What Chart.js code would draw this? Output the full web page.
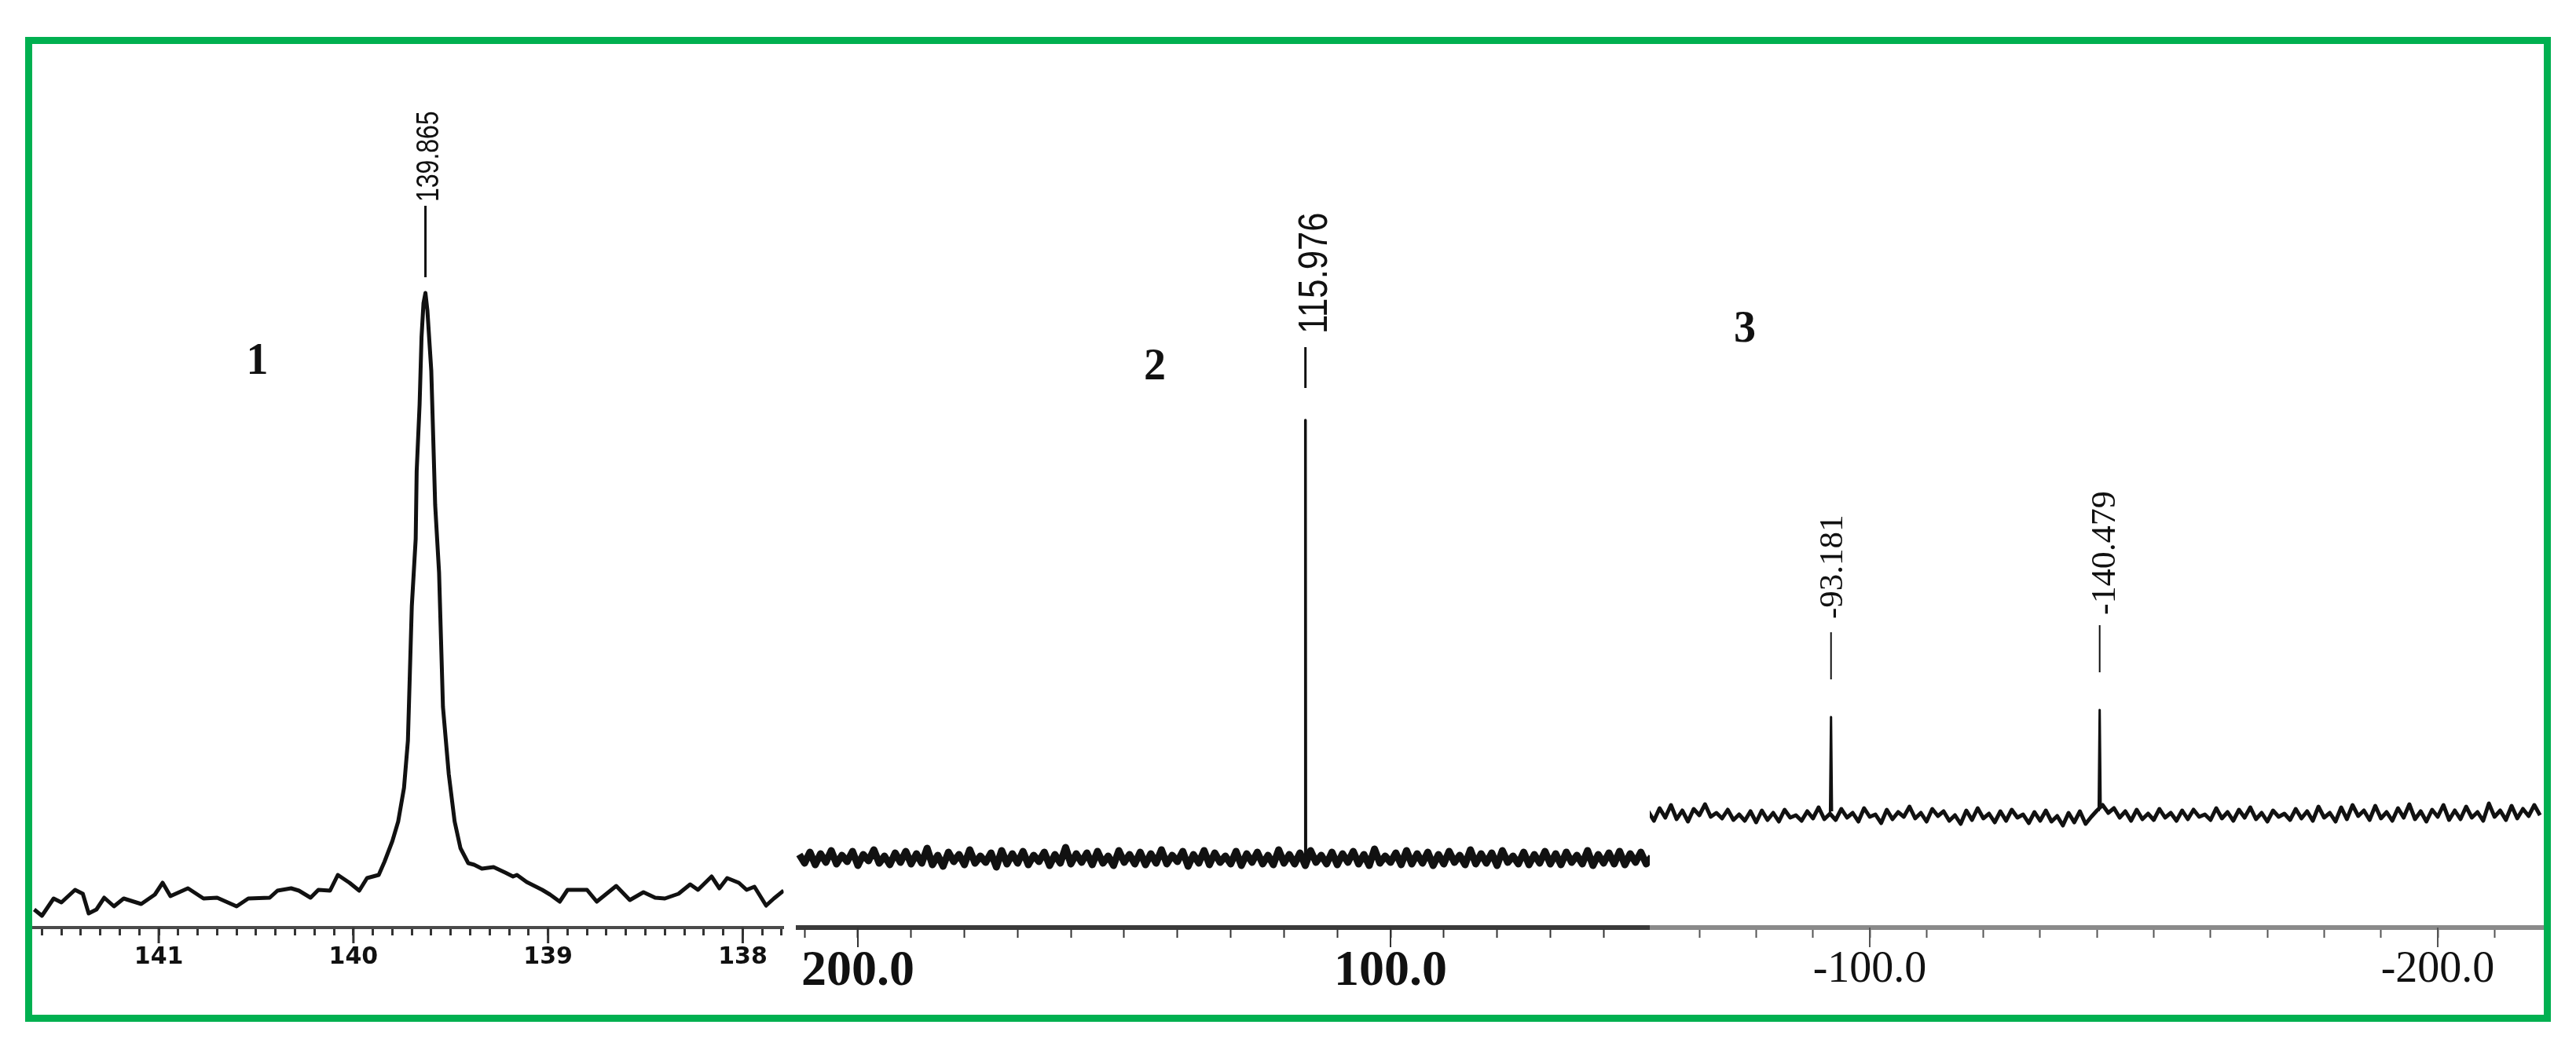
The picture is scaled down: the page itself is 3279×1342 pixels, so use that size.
<!DOCTYPE html>
<html>
<head>
<meta charset="utf-8">
<script src="https://cdn.jsdelivr.net/npm/chart.js@4.4.1/dist/chart.umd.min.js"></script>
<style>
html, body { margin:0; padding:0; background:#fff; width:3279px; height:1342px; overflow:hidden; }
#frame { position:absolute; left:32px; top:47px; width:3215px; height:1254px; box-sizing:border-box; border:9px solid #00b050; }
canvas { position:absolute; top:0; }
</style>
</head>
<body>
<div id="frame"></div>
<canvas id="c1" width="964" height="1300" style="left:41px"></canvas>
<canvas id="c2" width="1087" height="1300" style="left:1013px"></canvas>
<canvas id="c3" width="1138" height="1300" style="left:2100px"></canvas>
<script>
// spectrum 1 : zoom around 139.9 ppm
const p1Ppm = [141.64,141.60,141.54,141.50,141.43,141.39,141.36,141.32,141.28,141.23,141.18,141.09,141.02,140.98,140.94,140.85,140.77,140.70,140.60,140.54,140.43,140.39,140.32,140.28,140.22,140.18,140.12,140.08,140.02,139.97,139.93,139.87,139.84,139.80,139.77,139.74,139.72,139.71,139.70,139.68,139.675,139.66,139.65,139.64,139.63,139.62,139.60,139.59,139.58,139.56,139.55,139.54,139.51,139.48,139.45,139.41,139.38,139.34,139.28,139.22,139.18,139.16,139.11,139.07,139.03,138.99,138.94,138.90,138.80,138.75,138.65,138.58,138.51,138.45,138.40,138.33,138.27,138.23,138.16,138.12,138.08,138.02,137.98,137.94,137.88,137.84,137.79];
const p1Int = [2.3,1.5,3.7,3.2,4.8,4.3,1.8,2.3,3.8,2.7,3.7,3.0,4.2,5.7,4.0,5.0,3.7,3.8,2.7,3.7,3.8,4.7,5.0,4.7,3.8,4.8,4.7,6.7,5.7,4.7,6.3,6.7,8.4,11.0,13.5,17.8,23.8,32.4,40.9,49.5,58.1,66.6,75.2,79.5,80.8,78.6,70.9,62.4,53.8,45.2,36.7,28.1,19.5,13.5,10.1,8.2,8.0,7.5,7.7,7.0,6.5,6.7,5.8,5.3,4.8,4.2,3.3,4.8,4.8,3.3,5.3,3.5,4.5,3.8,3.7,4.3,5.5,4.8,6.5,5.0,6.3,5.7,4.8,5.2,2.8,3.7,4.7];
const p1Majors = [141, 140, 139, 138];

// spectrum 2 : 211 .. 51 ppm, one point per ppm
const p2Start = 211, p2Step = -1;
const p2Noise = [9.3,8.2,9.6,8.0,9.4,8.3,9.8,8.1,9.2,8.4,9.7,7.9,9.3,8.5,9.9,8.2,9.1,8.0,9.5,8.3,
9.7,8.1,9.4,8.2,10.1,8.0,9.2,7.8,9.6,8.4,9.3,8.0,9.9,8.2,9.1,8.3,9.5,7.7,9.8,8.1,
9.4,8.2,9.7,8.0,9.2,8.4,9.6,7.9,9.3,8.2,10.2,8.1,9.4,8.3,9.5,8.0,9.7,8.2,9.1,7.9,
9.8,8.3,9.3,8.1,9.6,8.0,9.4,8.2,9.9,8.1,9.2,8.4,9.7,7.8,9.3,8.2,9.8,8.0,9.5,8.3,
9.1,8.1,9.7,7.9,9.4,8.3,9.6,8.1,9.2,8.0,9.9,8.2,9.3,8.1,9.5,7.9,9.8,8.3,9.2,8.1,
9.6,8.0,9.4,8.3,9.7,8.1,9.3,7.9,10.0,8.2,9.1,8.3,9.5,8.0,9.8,8.1,9.4,8.2,9.6,7.9,
9.3,8.1,9.7,8.3,9.2,8.0,9.9,8.1,9.4,8.2,9.5,7.9,9.8,8.3,9.1,8.1,9.6,8.0,9.3,8.2,
9.7,8.1,9.4,8.0,9.6,8.3,9.2,8.1,9.8,7.9,9.3,8.2,9.5,8.1,9.7,8.0,9.4,8.3,9.6,8.1,
9.0];
const p2PeakPpm = [116.05, 115.976, 115.9];
const p2PeakInt = [8.8, 64.6, 8.8];
const p2Majors = [200, 100];

// spectrum 3 : -61 .. -218 ppm, one point per ppm
const p3Start = -61, p3Step = -1;
const p3Noise = [14.8,13.6,15.2,14.0,15.6,13.8,14.9,13.5,15.1,14.3,15.7,14.1,14.6,13.9,15.0,13.7,14.4,13.6,14.8,13.4,
14.9,13.7,14.6,13.5,15.0,14.0,14.3,13.6,14.8,13.9,15.3,13.8,14.5,13.7,15.1,14.0,14.6,13.5,15.2,14.1,
14.4,13.3,15.0,13.8,14.7,14.1,15.4,13.9,14.6,13.5,15.1,14.2,14.8,13.6,14.3,13.2,14.9,13.7,15.2,13.9,
14.5,13.4,14.8,13.6,15.0,14.0,14.4,13.3,14.7,13.6,14.9,13.5,14.2,13.0,14.6,13.4,14.8,13.2,14.1,14.9,
15.6,14.6,15.2,14.0,14.8,13.6,15.0,13.8,14.5,13.7,15.1,14.0,14.6,13.6,14.9,13.8,15.0,14.1,14.4,13.7,
15.2,13.9,14.7,13.6,15.0,14.0,15.3,13.8,14.6,13.5,14.9,14.1,14.5,13.7,15.1,13.9,14.8,13.6,15.4,14.0,
14.6,13.5,15.3,13.8,15.6,14.2,14.9,13.7,15.5,13.9,14.7,13.6,15.2,14.0,15.7,13.8,14.8,13.5,15.0,14.1,
15.6,13.7,14.9,13.8,15.4,14.0,14.7,13.6,15.8,14.1,14.9,13.7,15.5,13.9,15.1,14.2,15.6,14.3];
const p3PeakAPpm = [-93.0, -93.181, -93.35];
const p3PeakAInt = [14.6, 26.8, 14.8];
const p3PeakBPpm = [-140.3, -140.479, -140.65];
const p3PeakBInt = [14.8, 27.7, 15.6];
const p3Majors = [-100, -200];

function gridPoints(start, step, vals) {
  return vals.map((v, i) => ({ x: start + i * step, y: v }));
}
function pairPoints(xs, ys) {
  return xs.map((x, i) => ({ x: x, y: ys[i] }));
}
function isMajor(v, m) {
  return Math.abs(v / m - Math.round(v / m)) < 1e-6;
}
function line(points, width) {
  return { data: points, borderColor: '#111', borderWidth: width, borderJoinStyle: 'round', pointRadius: 0, tension: 0, fill: false };
}

const decor = {
  id: 'decor',
  afterDraw(chart, args, o) {
    const ctx = chart.ctx, xs = chart.scales.x, ys = chart.scales.y;
    ctx.save();
    ctx.strokeStyle = o.tickColor;
    ctx.lineWidth = o.majorWidth;
    o.majors.forEach(v => {
      const px = xs.getPixelForValue(v);
      ctx.beginPath();
      ctx.moveTo(px, xs.top);
      ctx.lineTo(px, xs.top + o.majorLen);
      ctx.stroke();
    });
    ctx.fillStyle = '#111';
    ctx.strokeStyle = '#111';
    o.peaks.forEach(p => {
      const px = xs.getPixelForValue(p.ppm);
      ctx.lineWidth = p.lw;
      ctx.beginPath();
      ctx.moveTo(px, ys.getPixelForValue(p.lo));
      ctx.lineTo(px, ys.getPixelForValue(p.hi));
      ctx.stroke();
      ctx.save();
      ctx.translate(px + p.dx, ys.getPixelForValue(p.tb));
      ctx.rotate(-Math.PI / 2);
      ctx.scale(p.sx, 1);
      ctx.font = p.font;
      ctx.textAlign = 'left';
      ctx.textBaseline = 'middle';
      ctx.fillText(p.text, 0, 0);
      ctx.restore();
    });
    ctx.font = 'bold 56px "Liberation Serif"';
    ctx.textAlign = 'center';
    ctx.textBaseline = 'middle';
    ctx.fillText(o.num, xs.getPixelForValue(o.numAt[0]), ys.getPixelForValue(o.numAt[1]));
    ctx.restore();
  }
};

function makeChart(id, datasets, xMin, xMax, ax, deco) {
  return new Chart(document.getElementById(id), {
    type: 'line',
    data: { datasets: datasets },
    options: {
      responsive: false, animation: false, devicePixelRatio: 1, events: [],
      layout: { padding: { top: 101, left: 0, right: 0, bottom: 0 } },
      plugins: { legend: { display: false }, tooltip: { enabled: false }, decor: deco },
      scales: {
        x: {
          type: 'linear', reverse: true, min: xMin, max: xMax,
          afterFit: s => { s.height = 119; },
          border: { display: true, color: ax.axisColor, width: ax.axisWidth },
          grid: { display: true, drawOnChartArea: false, drawTicks: true, tickLength: ax.minorLen, tickWidth: ax.tickWidth, tickColor: ax.tickColor },
          ticks: {
            stepSize: ax.step, maxTicksLimit: 1000, autoSkip: false, maxRotation: 0, minRotation: 0,
            includeBounds: false, padding: ax.pad, color: '#111', font: ax.font,
            callback: v => isMajor(v, ax.major) ? ax.fmt(v) : ''
          }
        },
        y: { display: false, min: 0, max: 108 }
      }
    },
    plugins: [decor]
  });
}

makeChart('c1', [line(pairPoints(p1Ppm, p1Int), 5)], 137.79, 141.65,
  { axisColor: '#4a4a4a', axisWidth: 4, minorLen: 10, tickWidth: 3, tickColor: '#333',
    step: 0.1, major: 1, pad: 10, font: { family: 'DejaVu Sans', weight: 'bold', size: 30 }, fmt: v => String(Math.round(v)) },
  { majors: p1Majors, majorLen: 20, majorWidth: 3, tickColor: '#333',
    peaks: [{ ppm: 139.63, text: '139.865', lo: 82.8, hi: 91.9, tb: 92.4, dx: 5, lw: 3, sx: 0.8, font: '40px "Liberation Sans"' }],
    num: '1', numAt: [140.494, 71.9] });

makeChart('c2', [line(gridPoints(p2Start, p2Step, p2Noise), 9), line(pairPoints(p2PeakPpm, p2PeakInt), 3.5)], 51.33, 211.65,
  { axisColor: '#3a3a3a', axisWidth: 6, minorLen: 13, tickWidth: 2, tickColor: '#333',
    step: 10, major: 100, pad: 5, font: { family: 'Liberation Serif', weight: 'bold', size: 64 }, fmt: v => v.toFixed(1) },
  { majors: p2Majors, majorLen: 25, majorWidth: 2, tickColor: '#333',
    peaks: [{ ppm: 115.976, text: '115.976', lo: 68.7, hi: 73.9, tb: 75.6, dx: 13, lw: 3, sx: 0.84, font: '52px "Liberation Sans"' }],
    num: '2', numAt: [144.25, 71.2] });

makeChart('c3', [line(gridPoints(p3Start, p3Step, p3Noise), 5),
                 line(pairPoints(p3PeakAPpm, p3PeakAInt), 3),
                 line(pairPoints(p3PeakBPpm, p3PeakBInt), 3)], -218.67, -61.27,
  { axisColor: '#8a8a8a', axisWidth: 6, minorLen: 13, tickWidth: 2, tickColor: '#555',
    step: 10, major: 100, pad: 8, font: { family: 'Liberation Serif', size: 56 }, fmt: v => v.toFixed(1) },
  { majors: p3Majors, majorLen: 25, majorWidth: 2, tickColor: '#555',
    peaks: [
      { ppm: -93.181, text: '-93.181', lo: 31.6, hi: 37.6, tb: 39.3, dx: 3, lw: 2, sx: 1, font: '43px "Liberation Serif"' },
      { ppm: -140.479, text: '-140.479', lo: 32.5, hi: 38.5, tb: 39.8, dx: 8, lw: 2, sx: 1, font: '44px "Liberation Serif"' }
    ],
    num: '3', numAt: [-78.0, 76.0] });
</script>
</body>
</html>
